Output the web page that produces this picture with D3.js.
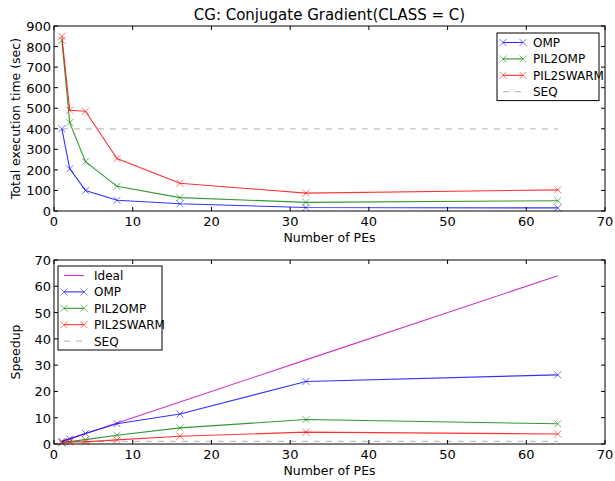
<!DOCTYPE html>
<html><head><meta charset="utf-8">
<script src="https://cdn.jsdelivr.net/npm/d3@7"></script>
<style>body{margin:0;background:#fff}svg{display:block}text{font-family:"DejaVu Sans",sans-serif}</style>
</head><body>
<svg id="c" width="615" height="481"></svg>
<script>
const pes = [1, 2, 4, 8, 16, 32, 64];
const timeOMP = [400, 205, 100, 52, 35, 17, 15];
const timePIL2OMP = [830, 430, 240, 120, 65, 42, 50];
const timePIL2SWARM = [850, 490, 485, 255, 135, 87, 103];
const timeSEQ = 400;
const speedIdeal = [1, 2, 4, 8, 16, 32, 64];
const speedOMP = [1.0, 1.95, 4.0, 7.7, 11.4, 23.8, 26.3];
const speedPIL2OMP = [0.48, 0.93, 1.67, 3.33, 6.15, 9.3, 7.7];
const speedPIL2SWARM = [0.47, 0.82, 0.82, 1.57, 2.96, 4.5, 3.8];
const speedSEQ = 1;
const xTicks = [0, 10, 20, 30, 40, 50, 60, 70];
const yTicksTime = [0, 100, 200, 300, 400, 500, 600, 700, 800, 900];
const yTicksSpeed = [0, 10, 20, 30, 40, 50, 60, 70];

const svg = d3.select("#c");
const L = 54, R = 605;
const colors = {OMP: "#0000ff", PIL2OMP: "#008000", PIL2SWARM: "#ff0000", Ideal: "#bf00bf", SEQ: "#c0c0c0"};

svg.append("text").attr("x", (L + R) / 2).attr("y", 20).attr("text-anchor", "middle")
  .attr("font-size", 15).text("CG: Conjugate Gradient(CLASS = C)");

function panel(top, bottom, yMax, yTicks, ylabel, series, seqVal, legend) {
  const x = d3.scaleLinear().domain([0, 70]).range([L, R]);
  const y = d3.scaleLinear().domain([0, yMax]).range([bottom, top]);
  const g = svg.append("g");
  const line = d3.line().x((d, i) => x(pes[i])).y(d => y(d));
  g.append("line").attr("x1", x(pes[0])).attr("x2", x(pes[pes.length - 1]))
    .attr("y1", y(seqVal)).attr("y2", y(seqVal))
    .attr("stroke", colors.SEQ).attr("stroke-width", 1.2).attr("stroke-dasharray", "6,6");
  series.forEach(s => {
    g.append("path").datum(s.values).attr("d", line).attr("fill", "none")
      .attr("stroke", colors[s.name]).attr("stroke-width", 1.1).attr("opacity", 0.8);
    if (s.marker) {
      s.values.forEach((v, i) => {
        const cx = x(pes[i]), cy = y(v), r = 3.5;
        g.append("path").attr("d", `M${cx - r},${cy - r}L${cx + r},${cy + r}M${cx - r},${cy + r}L${cx + r},${cy - r}`)
          .attr("stroke", colors[s.name]).attr("stroke-width", 1).attr("opacity", 0.55);
      });
    }
  });
  g.append("rect").attr("x", L).attr("y", top).attr("width", R - L).attr("height", bottom - top)
    .attr("fill", "none").attr("stroke", "#000").attr("stroke-width", 1);
  xTicks.forEach(t => {
    g.append("line").attr("x1", x(t)).attr("x2", x(t)).attr("y1", bottom).attr("y2", bottom - 4).attr("stroke", "#000");
    g.append("line").attr("x1", x(t)).attr("x2", x(t)).attr("y1", top).attr("y2", top + 4).attr("stroke", "#000");
    g.append("text").attr("x", x(t)).attr("y", bottom + 15).attr("text-anchor", "middle").attr("font-size", 13).text(t);
  });
  yTicks.forEach(t => {
    g.append("line").attr("x1", L).attr("x2", L + 4).attr("y1", y(t)).attr("y2", y(t)).attr("stroke", "#000");
    g.append("line").attr("x1", R).attr("x2", R - 4).attr("y1", y(t)).attr("y2", y(t)).attr("stroke", "#000");
    g.append("text").attr("x", L - 3).attr("y", y(t) + 5).attr("text-anchor", "end").attr("font-size", 13).text(t);
  });
  g.append("text").attr("x", (L + R) / 2).attr("y", bottom + 31).attr("text-anchor", "middle")
    .attr("font-size", 12.5).text("Number of PEs");
  g.append("text").attr("transform", `translate(20,${(top + bottom) / 2}) rotate(-90)`)
    .attr("text-anchor", "middle").attr("font-size", 12.5).text(ylabel);
  const lg = svg.append("g");
  const rowH = 16.4;
  lg.append("rect").attr("x", legend.x).attr("y", legend.y).attr("width", legend.w).attr("height", legend.items.length * rowH + 2)
    .attr("fill", "#fff").attr("stroke", "#000").attr("stroke-width", 1);
  legend.items.forEach((it, i) => {
    const cy = legend.y + 9.5 + i * rowH;
    const x0 = legend.x + 6, x1 = legend.x + 26;
    if (it.name === "SEQ") {
      lg.append("line").attr("x1", x0).attr("x2", x1).attr("y1", cy).attr("y2", cy)
        .attr("stroke", colors.SEQ).attr("stroke-dasharray", "6,6").attr("stroke-width", 1.2);
    } else {
      lg.append("line").attr("x1", x0).attr("x2", x1).attr("y1", cy).attr("y2", cy)
        .attr("stroke", colors[it.name]).attr("stroke-width", 1.1).attr("opacity", 0.8);
      if (it.marker) {
        [x0, x1].forEach(mx => {
          const r = 3.5;
          lg.append("path").attr("d", `M${mx - r},${cy - r}L${mx + r},${cy + r}M${mx - r},${cy + r}L${mx + r},${cy - r}`)
            .attr("stroke", colors[it.name]).attr("stroke-width", 1).attr("opacity", 0.55);
        });
      }
    }
    lg.append("text").attr("x", legend.x + 36).attr("y", cy + 4.5).attr("font-size", 12).text(it.name);
  });
}

panel(26, 211, 900, yTicksTime, "Total execution time (sec)", [
  {name: "OMP", values: timeOMP, marker: true},
  {name: "PIL2OMP", values: timePIL2OMP, marker: true},
  {name: "PIL2SWARM", values: timePIL2SWARM, marker: true}
], timeSEQ, {x: 497, y: 33, w: 102, items: [
  {name: "OMP", marker: true}, {name: "PIL2OMP", marker: true}, {name: "PIL2SWARM", marker: true}, {name: "SEQ"}]});

panel(260, 444, 70, yTicksSpeed, "Speedup", [
  {name: "Ideal", values: speedIdeal, marker: false},
  {name: "OMP", values: speedOMP, marker: true},
  {name: "PIL2OMP", values: speedPIL2OMP, marker: true},
  {name: "PIL2SWARM", values: speedPIL2SWARM, marker: true}
], speedSEQ, {x: 58, y: 266, w: 104, items: [
  {name: "Ideal"}, {name: "OMP", marker: true}, {name: "PIL2OMP", marker: true}, {name: "PIL2SWARM", marker: true}, {name: "SEQ"}]});
</script>
</body></html>
